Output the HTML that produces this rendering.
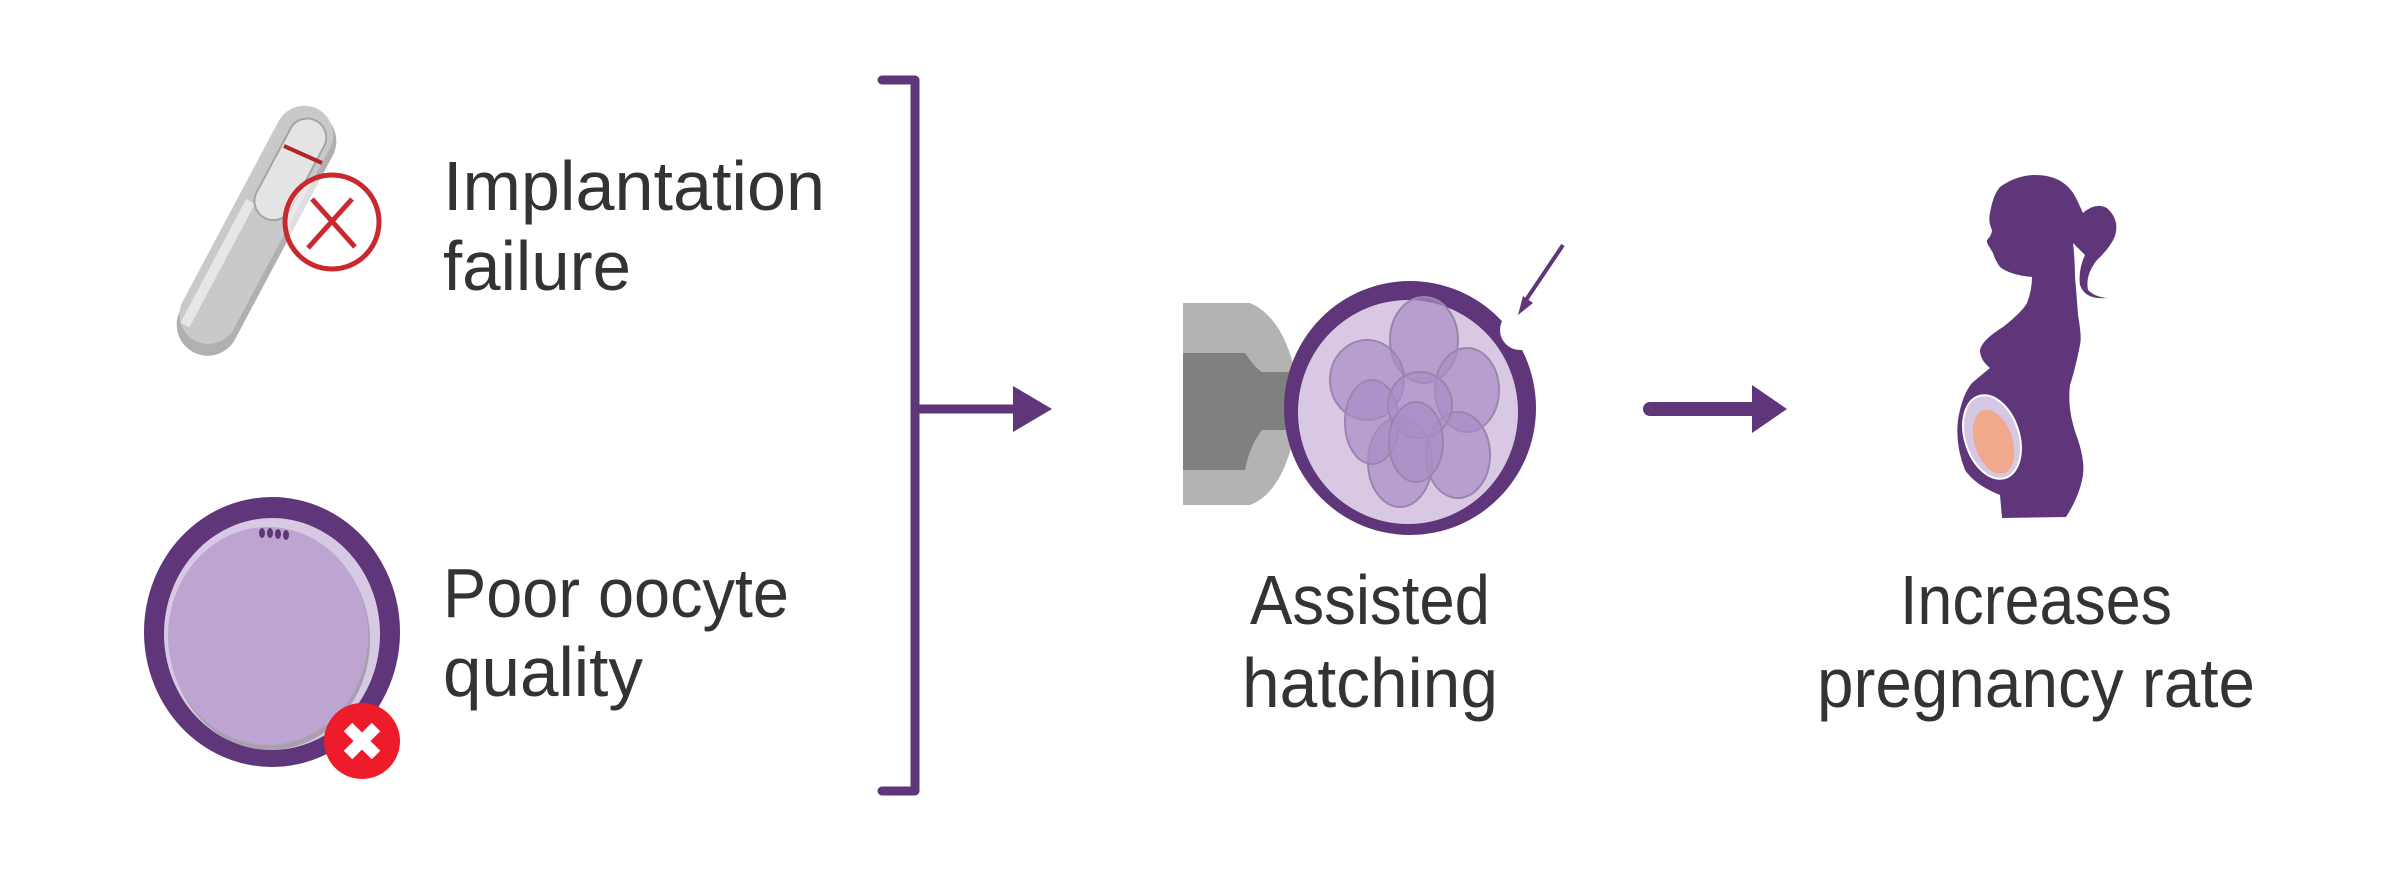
<!DOCTYPE html>
<html><head><meta charset="utf-8"><style>
html,body{margin:0;padding:0;background:#fff;}
svg{display:block}
text{font-family:"Liberation Sans",sans-serif;fill:#333;}
</style></head><body>
<svg width="2400" height="880" viewBox="0 0 2400 880">
<!-- test stick -->
<g transform="translate(258,228) rotate(28)">
<rect x="-30" y="-130" width="62" height="270" rx="31" fill="#b0b0b0"/>
<rect x="-32" y="-133" width="58" height="262" rx="29" fill="#c9c9c9"/>
<rect x="-24" y="-20" width="10" height="140" fill="#e6e6e6"/>
<rect x="-18" y="-122" width="38" height="110" rx="19" fill="#e4e4e4" stroke="#a5a5a5" stroke-width="2"/>
</g>
<line x1="284" y1="146" x2="322" y2="163" stroke="#b0242a" stroke-width="4"/>
<circle cx="332" cy="222" r="47" fill="#fff" fill-opacity="0.6" stroke="#c8282e" stroke-width="5"/>
<line x1="312" y1="199" x2="355" y2="247" stroke="#c8282e" stroke-width="5"/>
<line x1="352" y1="199" x2="308" y2="248" stroke="#c8282e" stroke-width="5"/>
<!-- oocyte -->
<ellipse cx="272" cy="632" rx="128" ry="135" fill="#5e3679"/>
<ellipse cx="272" cy="634" rx="108" ry="116" fill="#d7c8e3"/>
<ellipse cx="270" cy="640" rx="100" ry="110" fill="#a8a0b0"/>
<ellipse cx="268" cy="636" rx="100" ry="109" fill="#bea5d1"/>
<g fill="#5e3679"><ellipse cx="262" cy="533" rx="3" ry="5"/><ellipse cx="270" cy="533" rx="3" ry="5"/><ellipse cx="278" cy="534" rx="3" ry="5"/><ellipse cx="286" cy="535" rx="3" ry="5"/></g>
<circle cx="362" cy="741" r="38" fill="#ee1c2a"/>
<line x1="348" y1="727" x2="376" y2="755" stroke="#fff" stroke-width="12"/>
<line x1="376" y1="727" x2="348" y2="755" stroke="#fff" stroke-width="12"/>
<!-- texts left -->
<text x="443" y="210" font-size="70" textLength="382" lengthAdjust="spacingAndGlyphs">Implantation</text>
<text x="443" y="290" font-size="70" textLength="188" lengthAdjust="spacingAndGlyphs">failure</text>
<text x="443" y="617" font-size="70" textLength="346" lengthAdjust="spacingAndGlyphs">Poor oocyte</text>
<text x="443" y="696" font-size="70" textLength="200" lengthAdjust="spacingAndGlyphs">quality</text>
<!-- bracket -->
<path d="M882,80 L915,80 L915,791 L882,791" fill="none" stroke="#5e3679" stroke-width="9" stroke-linecap="round" stroke-linejoin="round"/>
<line x1="915" y1="409" x2="1020" y2="409" stroke="#5e3679" stroke-width="9"/>
<polygon points="1013,386 1052,409 1013,432" fill="#5e3679"/>
<!-- pipette -->
<path d="M1183,303 L1250,303 Q1290,320 1300,400 Q1290,490 1250,505 L1183,505 Z" fill="#b3b3b3"/>
<path d="M1183,353 L1245,353 Q1255,368 1262,372 L1300,372 L1300,430 L1262,430 Q1250,445 1245,470 L1183,470 Z" fill="#808080"/>
<!-- embryo -->
<ellipse cx="1410" cy="408" rx="126" ry="127" fill="#5e3679"/>
<ellipse cx="1408" cy="412" rx="110" ry="112" fill="#d8c8e3"/>
<g fill="#a98bc6" fill-opacity="0.7" stroke="#9a86ad" stroke-width="2">
<ellipse cx="1424" cy="340" rx="34" ry="43"/>
<ellipse cx="1367" cy="380" rx="37" ry="40"/>
<ellipse cx="1467" cy="390" rx="32" ry="42"/>
<ellipse cx="1400" cy="462" rx="32" ry="45"/>
<ellipse cx="1458" cy="455" rx="32" ry="43"/>
<ellipse cx="1372" cy="422" rx="27" ry="42"/>
<ellipse cx="1420" cy="405" rx="32" ry="33"/>
<ellipse cx="1416" cy="442" rx="27" ry="40"/>
</g>
<circle cx="1520" cy="330" r="20" fill="#fff"/>
<line x1="1563" y1="245" x2="1526" y2="300" stroke="#5e3679" stroke-width="4"/>
<polygon points="1518,315 1523,296 1533,303" fill="#5e3679"/>
<text x="1370" y="624" font-size="70" text-anchor="middle" textLength="240" lengthAdjust="spacingAndGlyphs">Assisted</text>
<text x="1370" y="707" font-size="70" text-anchor="middle" textLength="256" lengthAdjust="spacingAndGlyphs">hatching</text>
<!-- arrow 2 -->
<line x1="1650" y1="409" x2="1760" y2="409" stroke="#5e3679" stroke-width="14" stroke-linecap="round"/>
<polygon points="1752,385 1787,409 1752,433" fill="#5e3679"/>
<!-- woman -->
<path d="M2033,175 Q2065,174 2077,200 L2083,213 Q2095,202 2107,208 Q2120,220 2115,236 Q2110,248 2097,260 Q2085,275 2088,290 Q2095,297 2107,298 Q2085,300 2080,285 Q2078,270 2085,255 Q2080,250 2073,243 Q2075,260 2075,277 Q2077,300 2078,315 Q2082,337 2080,345 Q2075,370 2070,385 Q2067,410 2077,437 Q2085,460 2083,475 Q2080,495 2066,517 L2002,518 L2000,495 Q1975,485 1965,470 Q1955,445 1958,420 Q1962,395 1972,383 Q1985,372 1990,368 Q1980,360 1980,350 Q1982,340 2003,327 Q2022,312 2027,303 Q2032,290 2032,277 Q2010,275 2000,267 Q1995,260 1993,253 L1990,248 Q1986,242 1987,240 Q1992,235 1992,230 Q1988,222 1990,213 Q1993,195 2000,187 Q2015,176 2033,175 Z" fill="#5e3679"/>
<g transform="rotate(-18 1992 437)">
<ellipse cx="1992" cy="437" rx="27" ry="43" fill="#d6c7e3" stroke="#fff" stroke-width="2"/>
<ellipse cx="1992" cy="442" rx="19" ry="33" fill="#f1a98d"/>
</g>
<text x="2036" y="624" font-size="70" text-anchor="middle" textLength="272" lengthAdjust="spacingAndGlyphs">Increases</text>
<text x="2036" y="707" font-size="70" text-anchor="middle" textLength="438" lengthAdjust="spacingAndGlyphs">pregnancy rate</text>
</svg>
</body></html>
